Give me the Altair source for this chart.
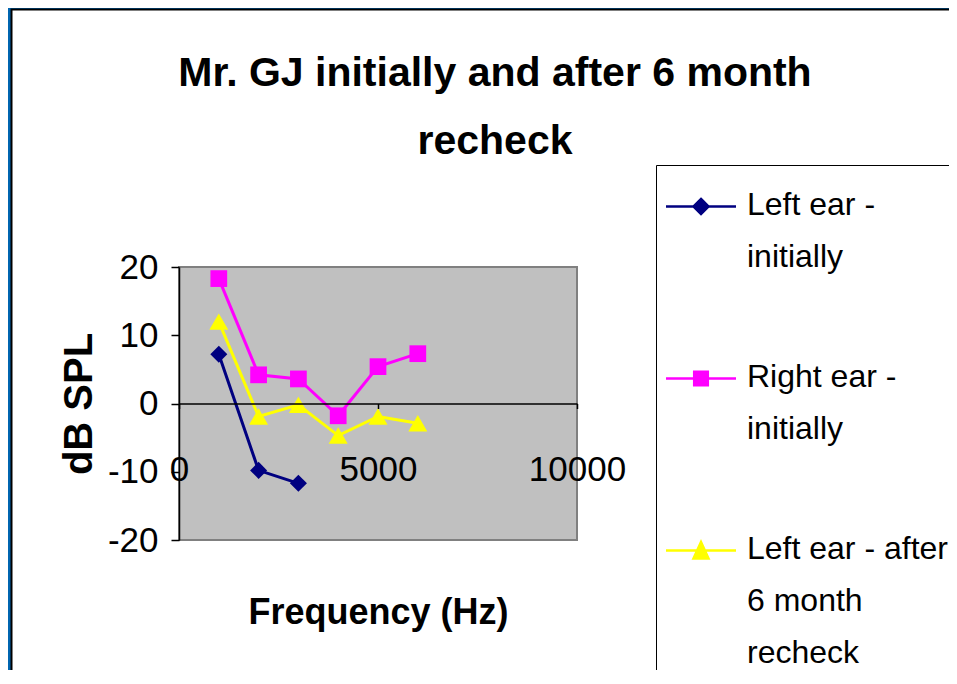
import altair as alt
import pandas as pd

# ---------------- data ----------------
frequencies = [1000, 2000, 3000, 4000, 5000, 6000]
left_initial = [7.2, -9.8, -11.7]
right_initial = [18.3, 4.2, 3.6, -1.8, 5.4, 7.3]
left_recheck = [12.0, -1.9, -0.2, -4.7, -1.9, -2.9]

series_names = ["Left ear - initially", "Right ear - initially", "Left ear - after 6 month recheck"]
legend_lines = [["Left ear -", "initially"], ["Right ear -", "initially"], ["Left ear - after", "6 month", "recheck"]]
series_colors = ["#000080", "#FF00FF", "#FFFF00"]
series_shapes = ["diamond", "square", "triangle-up"]
series_sizes = [290, 280, 360]
title_lines = ["Mr. GJ initially and after 6 month", "recheck"]
x_domain = [0, 10000]
y_domain = [-20, 20]
x_ticks = [0, 5000, 10000]
y_ticks = [-20, -10, 0, 10, 20]

rows = []
for name, vals in zip(series_names, [left_initial, right_initial, left_recheck]):
    for f, v in zip(frequencies, vals):
        rows.append({"series": name, "freq": f, "db": v})
df = pd.DataFrame(rows)

W, H = 398, 273
FONT = "Liberation Sans"
FRAME_BLUE = "#0065B0"

# legend symbols: a short line with the marker in its middle (unit = 10px)
LY = -0.85   # vertical shift so the symbol sits on the first label line


def sym(marker):
    line = f"M-3.5,{LY}H3.5"
    if marker == "diamond":
        m = f"M0,{LY-0.75}L0.75,{LY}L0,{LY+0.75}L-0.75,{LY}Z"
    elif marker == "square":
        m = f"M-0.68,{LY-0.68}H0.68V{LY+0.68}H-0.68Z"
    else:
        m = f"M0,{LY-0.85}L0.75,{LY+0.8}H-0.75Z"
    return line + m


legend_paths = [sym(s) for s in series_shapes]


def q(s):
    return "'" + s.replace("'", "\\'") + "'"


label_expr = "[" + ",".join(q(t) for t in legend_lines[-1]) + "]"
for name, lines in reversed(list(zip(series_names[:-1], legend_lines[:-1]))):
    label_expr = f"datum.label == {q(name)} ? [" + ",".join(q(t) for t in lines) + f"] : ({label_expr})"

x_scale = alt.Scale(domain=x_domain, nice=False, zero=False)
y_scale = alt.Scale(domain=y_domain, nice=False, zero=False)

x_axis = alt.Axis(
    values=x_ticks, title="Frequency (Hz)", offset=-H / 2, grid=False,
    domainColor="black", domainWidth=1.5, tickColor="black", tickSize=5, tickWidth=1.5,
    labelFont=FONT, labelFontSize=35, labelColor="black", labelPadding=44,
    labelFlush=False, labelOverlap=False, labelExpr="'' + datum.value",
    titleFont=FONT, titleFontSize=36, titleFontWeight="bold", titleColor="black",
    titleY=220, titleBaseline="alphabetic", zindex=1,
)
y_axis = alt.Axis(
    values=y_ticks, title="dB SPL", grid=False,
    domainColor="black", domainWidth=1.5, tickColor="black", tickSize=8, tickWidth=1.5,
    labelFont=FONT, labelFontSize=35, labelColor="black", labelPadding=13,
    labelOverlap=False, labelExpr="'' + datum.value",
    titleFont=FONT, titleFontSize=40, titleFontWeight="bold", titleColor="black",
    titleX=-88, titleY=H / 2, titleBaseline="alphabetic", zindex=1,
)

fill_scale = alt.Scale(domain=series_names, range=series_colors)
stroke_scale = alt.Scale(domain=series_names, range=series_colors)
shape_scale = alt.Scale(domain=series_names, range=legend_paths)

legend = alt.Legend(
    title=" ", titleFontSize=10, titlePadding=8,
    orient="none", legendX=477, legendY=-102,
    strokeColor="black", fillColor="white", padding=16, cornerRadius=0,
    labelFont=FONT, labelFontSize=32, labelColor="black", labelLimit=600,
    labelExpr=label_expr, labelBaseline="alphabetic",
    rowPadding=88, symbolOffset=13, labelOffset=30, symbolSize=400, symbolStrokeWidth=2.5,
    symbolOpacity=1,
)

base_one = alt.Chart(pd.DataFrame({"k": [0]}))

# slide frame: thin blue strips at the left and top, white panel with black edge
frame_left = base_one.mark_rect(fill=FRAME_BLUE).encode(
    x=alt.value(-171), x2=alt.value(-167.5), y=alt.value(-259), y2=alt.value(600)
)
frame_top = base_one.mark_rect(fill=FRAME_BLUE).encode(
    x=alt.value(-171), x2=alt.value(900), y=alt.value(-259), y2=alt.value(-257.5)
)
panel = base_one.mark_rect(fill="white", stroke="black", strokeWidth=2).encode(
    x=alt.value(-167.5), x2=alt.value(900), y=alt.value(-257.5), y2=alt.value(600)
)

plot_bg = base_one.mark_rect(fill="#C0C0C0", stroke="#808080", strokeWidth=2).encode(
    x=alt.X(datum=x_domain[0], type="quantitative", scale=x_scale, axis=x_axis),
    x2=alt.X2(datum=x_domain[1]),
    y=alt.Y(datum=y_domain[0], type="quantitative", scale=y_scale, axis=y_axis),
    y2=alt.Y2(datum=y_domain[1]),
)

lines = alt.Chart(df).mark_line(strokeWidth=3).encode(
    x=alt.X("freq:Q", scale=x_scale, axis=x_axis),
    y=alt.Y("db:Q", scale=y_scale, axis=y_axis),
    stroke=alt.Stroke("series:N", scale=stroke_scale, sort=series_names, legend=legend),
    detail="series:N",
)

point_layers = []
for name, shp, sz in zip(series_names, series_shapes, series_sizes):
    point_layers.append(
        alt.Chart(df).transform_filter(alt.datum.series == name)
        .mark_point(filled=True, shape=shp, size=sz, opacity=1)
        .encode(
            x=alt.X("freq:Q", scale=x_scale, axis=x_axis),
            y=alt.Y("db:Q", scale=y_scale, axis=y_axis),
            fill=alt.Fill("series:N", scale=fill_scale, sort=series_names, legend=legend),
        )
    )

legend_layer = alt.Chart(df).transform_filter("false").mark_point(filled=True).encode(
    x=alt.X("freq:Q", scale=x_scale, axis=x_axis),
    y=alt.Y("db:Q", scale=y_scale, axis=y_axis),
    fill=alt.Fill("series:N", scale=fill_scale, sort=series_names, legend=legend),
    stroke=alt.Stroke("series:N", scale=stroke_scale, sort=series_names, legend=legend),
    shape=alt.Shape("series:N", scale=shape_scale, sort=series_names, legend=legend),
)

chart = alt.layer(frame_left, frame_top, panel, plot_bg, lines, *point_layers, legend_layer).properties(
    width=W, height=H,
    padding={"left": 171, "top": 259, "right": 372, "bottom": 130},
    autosize=alt.AutoSizeParams(type="none"),
    background="white",
    title=alt.TitleParams(
        text=title_lines, font=FONT, fontSize=41, fontWeight="bold",
        color="black", anchor="middle", frame="group", dx=117, offset=-154.5, lineHeight=68,
    ),
).configure_view(strokeOpacity=0).configure(
    style={"guide-label": {"lineHeight": 52}}
)

chart.save("out.html", embed_options={"renderer": "svg", "actions": False})
